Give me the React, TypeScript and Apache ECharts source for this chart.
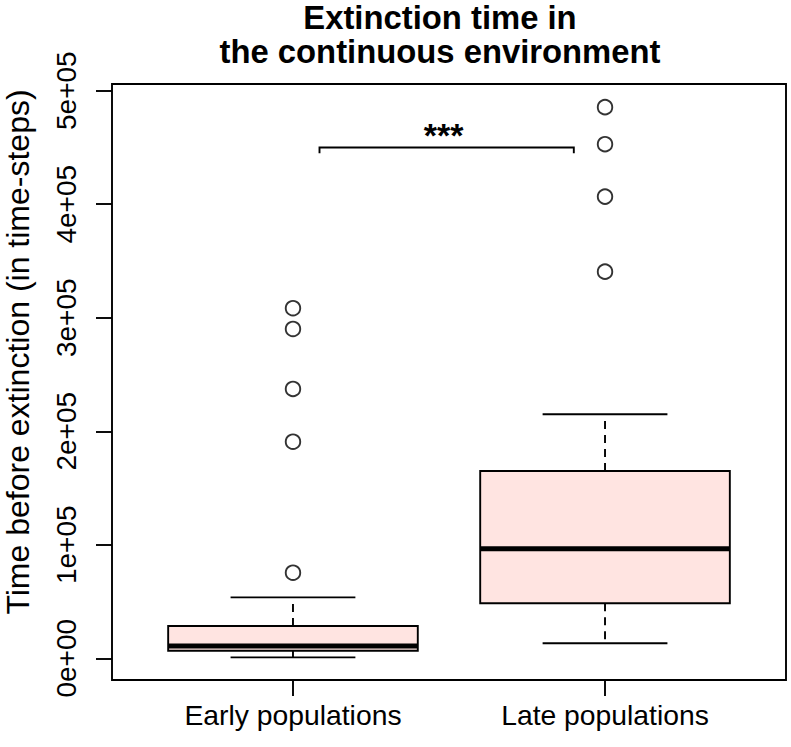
import React, { useEffect, useRef } from "react";
import * as echarts from "echarts";

const categories = ["Early populations", "Late populations"];
const categoryPositions = [1, 2];
// [lower whisker, Q1, median, Q3, upper whisker]
const boxEarly = [800, 6700, 10800, 28500, 53700];
const boxLate = [13200, 48500, 96600, 165000, 215000];
const outliersEarly = [75400, 190800, 237300, 290100, 308400];
const outliersLate = [340600, 406700, 452900, 485500];
const yTickValues = [0, 100000, 200000, 300000, 400000, 500000];
const yTickLabels = ["0e+00", "1e+05", "2e+05", "3e+05", "4e+05", "5e+05"];
const bracketFrom = 1.085;
const bracketTo = 1.9;
const bracketY = 450000;
const bracketDrop = 445000;
const bracketLabelY = 461000;
const bracketLabel = "***";
const titleLines = ["Extinction time in", "the continuous environment"];
const yAxisTitle = "Time before extinction (in time-steps)";

const FONT = "'Liberation Sans', Arial, Helvetica, sans-serif";

export default function App() {
  const ref = useRef<HTMLDivElement>(null);
  useEffect(() => {
    if (!ref.current) return;
    const chart = echarts.init(ref.current, null, { renderer: "svg" });
    const boxData = [
      [categoryPositions[0], ...boxEarly],
      [categoryPositions[1], ...boxLate],
    ];
    const outlierData = [
      ...outliersEarly.map((v) => [categoryPositions[0], v]),
      ...outliersLate.map((v) => [categoryPositions[1], v]),
    ];
    const LW = 1.9;
    const option: any = {
      animation: false,
      grid: {
        left: 112,
        right: 5,
        top: 84,
        bottom: 67,
        show: true,
        containLabel: false,
        outerBoundsMode: "none",
        borderColor: "#000",
        borderWidth: LW,
        backgroundColor: "transparent",
      },
      graphic: [
        {
          type: "text",
          x: 440,
          y: 17,
          style: {
            text: titleLines[0],
            font: `bold 32.8px ${FONT}`,
            lineHeight: 28,
            fill: "#000",
            textAlign: "center",
            textVerticalAlign: "middle",
          },
        },
        {
          type: "text",
          x: 440,
          y: 51.5,
          style: {
            text: titleLines[1],
            font: `bold 32.8px ${FONT}`,
            lineHeight: 28,
            fill: "#000",
            textAlign: "center",
            textVerticalAlign: "middle",
          },
        },
      ],
      xAxis: {
        type: "value",
        min: 0.42,
        max: 2.58,
        splitLine: { show: false },
        axisLine: { show: false, onZero: false },
        axisTick: {
          show: true,
          length: 16,
          customValues: categoryPositions,
          lineStyle: { color: "#000", width: LW },
        },
        axisLabel: {
          customValues: categoryPositions,
          formatter: (v: number) => categories[Math.round(v) - 1] || "",
          fontSize: 28.3,
          fontFamily: FONT,
          color: "#000",
          margin: 21,
        },
      },
      yAxis: {
        type: "value",
        min: -19120,
        max: 505900,
        splitLine: { show: false },
        axisLine: { show: false, onZero: false },
        name: yAxisTitle,
        nameLocation: "middle",
        nameGap: 78,
        nameTextStyle: {
          fontSize: 32,
          fontFamily: FONT,
          color: "#000",
          padding: [0, 0, 0, 60],
        },
        axisTick: {
          show: true,
          length: 16,
          customValues: yTickValues,
          lineStyle: { color: "#000", width: LW },
        },
        axisLabel: {
          customValues: yTickValues,
          rotate: 90,
          formatter: (v: number) => {
            const i = yTickValues.indexOf(v);
            return i >= 0 ? yTickLabels[i] : "";
          },
          fontSize: 28,
          fontFamily: FONT,
          color: "#000",
          margin: 32,
        },
      },
      series: [
        {
          type: "custom",
          data: boxData,
          encode: { x: 0, y: [1, 2, 3, 4, 5] },
          renderItem: (params: any, api: any) => {
            const x = api.value(0);
            const lo = api.value(1);
            const q1 = api.value(2);
            const med = api.value(3);
            const q3 = api.value(4);
            const hi = api.value(5);
            const hb = 0.4;
            const hs = 0.2;
            const tl = api.coord([x - hb, q3]);
            const br = api.coord([x + hb, q1]);
            const mL = api.coord([x - hb, med]);
            const mR = api.coord([x + hb, med]);
            const cq3 = api.coord([x, q3]);
            const chi = api.coord([x, hi]);
            const cq1 = api.coord([x, q1]);
            const clo = api.coord([x, lo]);
            const sHiL = api.coord([x - hs, hi]);
            const sHiR = api.coord([x + hs, hi]);
            const sLoL = api.coord([x - hs, lo]);
            const sLoR = api.coord([x + hs, lo]);
            const solid = { stroke: "#000", lineWidth: LW };
            const dashed = { stroke: "#000", lineWidth: LW, lineDash: [8, 6] };
            return {
              type: "group",
              children: [
                { type: "line", shape: { x1: cq3[0], y1: cq3[1], x2: chi[0], y2: chi[1] }, style: dashed },
                { type: "line", shape: { x1: cq1[0], y1: cq1[1], x2: clo[0], y2: clo[1] }, style: dashed },
                { type: "line", shape: { x1: sHiL[0], y1: sHiL[1], x2: sHiR[0], y2: sHiR[1] }, style: solid },
                { type: "line", shape: { x1: sLoL[0], y1: sLoL[1], x2: sLoR[0], y2: sLoR[1] }, style: solid },
                {
                  type: "rect",
                  shape: { x: tl[0], y: tl[1], width: br[0] - tl[0], height: br[1] - tl[1] },
                  style: { fill: "#FFE4E1", stroke: "#000", lineWidth: LW },
                },
                { type: "line", shape: { x1: mL[0], y1: mL[1], x2: mR[0], y2: mR[1] }, style: { stroke: "#000", lineWidth: 5 } },
              ],
            };
          },
          z: 2,
        },
        {
          type: "scatter",
          data: outlierData,
          symbol: "circle",
          symbolSize: 14.5,
          itemStyle: { color: "transparent", borderColor: "#000", borderWidth: LW },
          z: 3,
        },
        {
          type: "custom",
          data: [[bracketFrom, bracketTo, bracketY, bracketDrop, bracketLabelY]],
          encode: { x: [0, 1], y: [2, 3, 4] },
          renderItem: (params: any, api: any) => {
            const a = api.coord([api.value(0), api.value(3)]);
            const b = api.coord([api.value(0), api.value(2)]);
            const c = api.coord([api.value(1), api.value(2)]);
            const d = api.coord([api.value(1), api.value(3)]);
            const t = api.coord([(api.value(0) + api.value(1)) / 2, api.value(4)]);
            return {
              type: "group",
              children: [
                {
                  type: "polyline",
                  shape: { points: [a, b, c, d] },
                  style: { stroke: "#000", lineWidth: LW, fill: "none" },
                },
                {
                  type: "text",
                  x: t[0] - 3,
                  y: t[1],
                  style: {
                    text: bracketLabel,
                    font: `bold 34px ${FONT}`,
                    fill: "#000",
                    textAlign: "center",
                    textVerticalAlign: "middle",
                  },
                },
              ],
            };
          },
          z: 4,
        },
      ],
    };
    chart.setOption(option);
    return () => chart.dispose();
  }, []);
  return (
    <div
      ref={ref}
      style={{ position: "absolute", left: 0, top: 0, width: 791, height: 747 }}
    />
  );
}
